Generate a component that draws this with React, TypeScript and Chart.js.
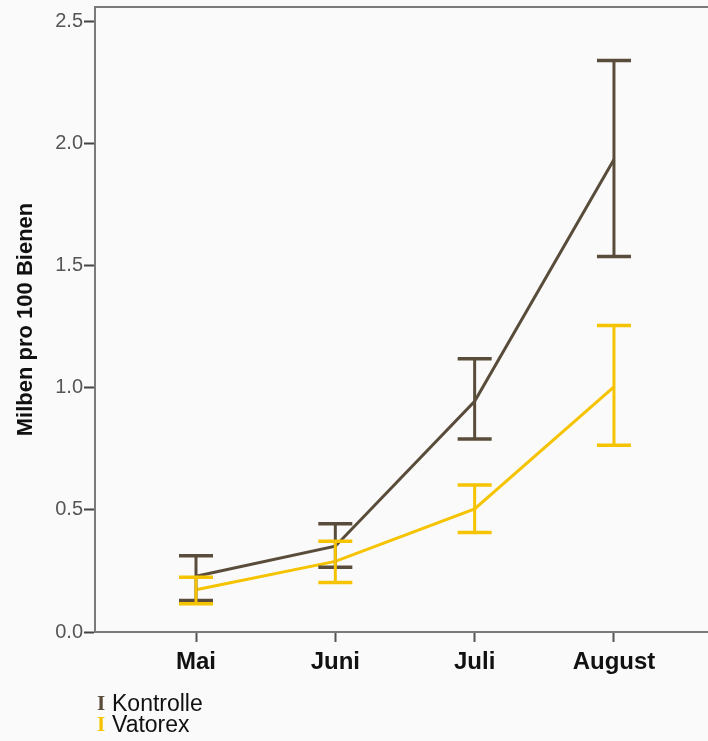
import React, { useEffect, useRef } from "react";
import { Chart, registerables } from "chart.js";

Chart.register(...registerables);

const categories = ["Mai", "Juni", "Juli", "August"];
const seriesNames = ["Kontrolle", "Vatorex"];
const kontrolleMean = [0.228, 0.351, 0.944, 1.934];
const kontrolleLow = [0.129, 0.265, 0.79, 1.537];
const kontrolleHigh = [0.312, 0.443, 1.118, 2.339];
const vatorexMean = [0.173, 0.289, 0.504, 1.003];
const vatorexLow = [0.116, 0.203, 0.407, 0.764];
const vatorexHigh = [0.224, 0.371, 0.602, 1.254];
const yTicks = [0, 0.5, 1.0, 1.5, 2.0, 2.5];

const colors = ["#594c3a", "#f5c300"];
const BG = "#fafafa";

const errorBarPlugin = {
  id: "errorBars",
  afterDatasetsDraw(chart: any) {
    const { ctx, scales, chartArea } = chart;
    const xs = scales.x;
    const ys = scales.y;
    ctx.save();
    // top border of the plot frame
    ctx.strokeStyle = "#7a7a7a";
    ctx.lineWidth = 2;
    ctx.beginPath();
    ctx.moveTo(chartArea.left - 1, chartArea.top);
    ctx.lineTo(chartArea.right, chartArea.top);
    ctx.stroke();
    chart.data.datasets.forEach((ds: any) => {
      const low: number[] = ds.errLow;
      const high: number[] = ds.errHigh;
      ctx.strokeStyle = ds.borderColor;
      ds.data.forEach((pt: any, i: number) => {
        const x = xs.getPixelForValue(pt.x);
        const yl = ys.getPixelForValue(low[i]);
        const yh = ys.getPixelForValue(high[i]);
        ctx.lineWidth = 3;
        ctx.beginPath();
        ctx.moveTo(x, yl);
        ctx.lineTo(x, yh);
        ctx.stroke();
        ctx.lineWidth = 3.5;
        ctx.beginPath();
        ctx.moveTo(x - 17, yl);
        ctx.lineTo(x + 17, yl);
        ctx.moveTo(x - 17, yh);
        ctx.lineTo(x + 17, yh);
        ctx.stroke();
      });
    });
    ctx.restore();
  },
};

export default function App() {
  const ref = useRef<HTMLCanvasElement | null>(null);
  useEffect(() => {
    if (!ref.current) return;
    const means = [kontrolleMean, vatorexMean];
    const lows = [kontrolleLow, vatorexLow];
    const highs = [kontrolleHigh, vatorexHigh];
    const chart = new Chart(ref.current, {
      type: "line",
      data: {
        datasets: seriesNames.map((name, s) => ({
          label: name,
          data: categories.map((_, i) => ({ x: i + 1, y: means[s][i] })),
          errLow: lows[s],
          errHigh: highs[s],
          borderColor: colors[s],
          backgroundColor: colors[s],
          borderWidth: 3,
          pointRadius: 0,
          tension: 0,
          fill: false,
        })) as any,
      },
      options: {
        animation: false,
        responsive: false,
        maintainAspectRatio: false,
        layout: { padding: { top: 7, right: 0, left: 0, bottom: 0 } },
        plugins: {
          legend: { display: false },
          tooltip: { enabled: false },
        },
        scales: {
          x: {
            type: "linear",
            min: 0.275,
            max: 4.675,
            afterBuildTicks: (scale: any) => {
              scale.ticks = categories.map((_, i) => ({ value: i + 1 }));
            },
            afterFit: (scale: any) => {
              scale.height = 109;
              scale.paddingLeft = 0;
              scale.paddingRight = 0;
            },
            ticks: {
              autoSkip: false,
              maxRotation: 0,
              padding: 6,
              color: "#111",
              font: { family: "Liberation Sans", size: 24, weight: "bold" },
              callback: (v: any) => categories[Math.round(v) - 1] ?? "",
            },
            grid: {
              drawOnChartArea: false,
              drawTicks: true,
              tickLength: 10,
              tickColor: "#555",
              tickWidth: 2,
            },
            border: { color: "#7a7a7a", width: 2 },
          },
          y: {
            type: "linear",
            min: 0,
            max: 2.558,
            afterBuildTicks: (scale: any) => {
              scale.ticks = yTicks.map((v) => ({ value: v }));
            },
            afterFit: (scale: any) => {
              scale.width = 95;
              scale.paddingTop = 0;
              scale.paddingBottom = 0;
            },
            ticks: {
              padding: 1,
              color: "#555",
              font: { family: "Liberation Sans", size: 20 },
              callback: (v: any) => Number(v).toFixed(1),
            },
            grid: {
              drawOnChartArea: false,
              drawTicks: true,
              tickLength: 11,
              tickColor: "#444",
              tickWidth: 2,
            },
            border: { color: "#7a7a7a", width: 2 },
            title: {
              display: true,
              text: "Milben pro 100 Bienen",
              color: "#111",
              padding: { top: 13, bottom: 0 },
              font: { family: "Liberation Sans", size: 22, weight: "bold" },
            },
          },
        },
      },
      plugins: [errorBarPlugin],
    } as any);
    return () => chart.destroy();
  }, []);

  return (
    <div
      style={{
        position: "absolute",
        left: 0,
        top: 0,
        width: 708,
        height: 741,
        background: BG,
        overflow: "hidden",
      }}
    >
      <canvas ref={ref} width={708} height={741} style={{ display: "block" }} />
      <div
        style={{
          position: "absolute",
          left: 97,
          top: 693,
          fontFamily: "Liberation Sans",
          fontSize: 23,
          lineHeight: "21px",
          color: "#111",
        }}
      >
        {seriesNames.map((name, s) => (
          <div key={name} style={{ display: "flex", alignItems: "center", height: 21 }}>
            <span
              style={{
                fontFamily: "Liberation Serif",
                fontWeight: "bold",
                color: colors[s],
                fontSize: 21,
                width: 15,
                display: "inline-block",
              }}
            >
              I
            </span>
            <span>{name}</span>
          </div>
        ))}
      </div>
    </div>
  );
}
